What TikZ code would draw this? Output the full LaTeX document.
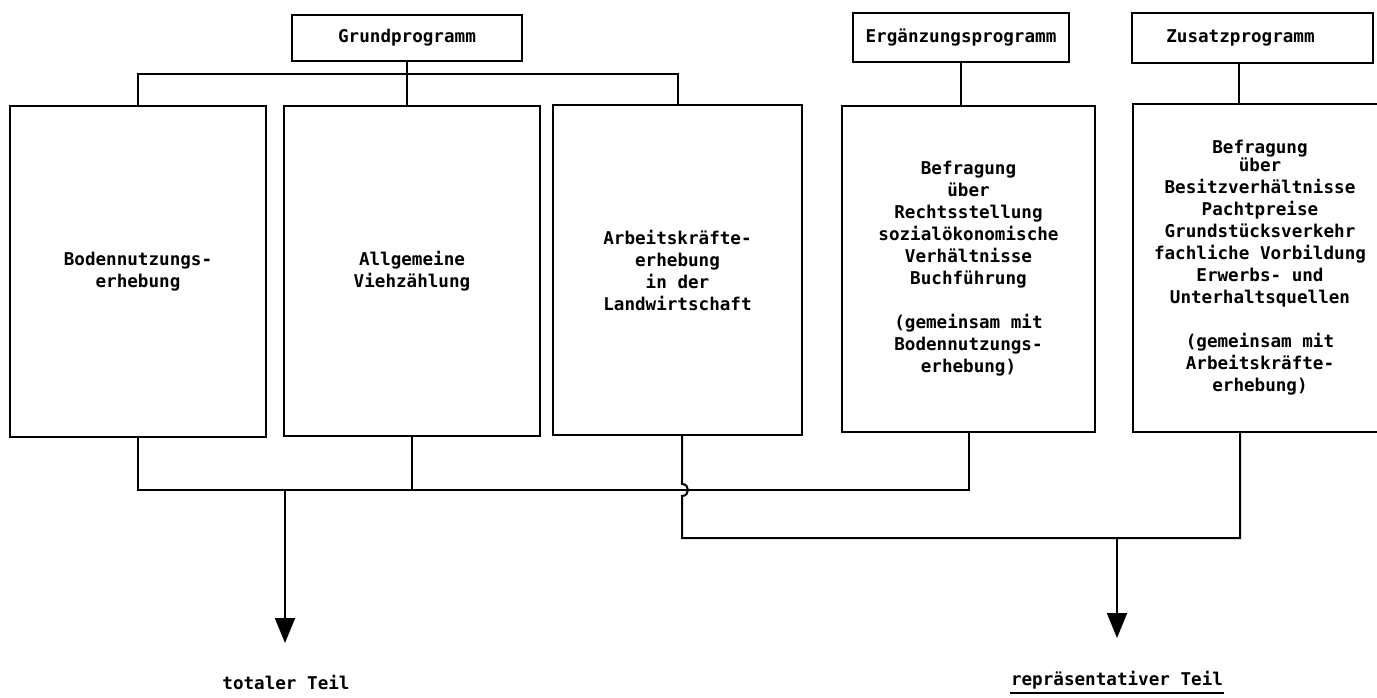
\documentclass[tikz,border=0pt]{standalone}
\usepackage{fontspec}
\setmonofont{DejaVu Sans Mono}
\usetikzlibrary{arrows.meta}
\begin{document}
\begin{tikzpicture}[x=1pt,y=-1pt,line width=2pt,
  txt/.style={font=\ttfamily\bfseries\fontsize{17.6}{22}\selectfont},
  box/.style={txt,draw,rectangle,inner sep=0pt,outer sep=0pt,align=center},
  lbl/.style={txt,inner sep=0pt},
  arr/.style={-{Triangle[length=25pt,width=20pt]}}]
\useasboundingbox (0,0) rectangle (1377,697);
\clip (0,0) rectangle (1377,697);
% program headers
\node[box,minimum width=230pt,minimum height=46pt] (g) at (407,38) {Grundprogramm};
\node[box,minimum width=216pt,minimum height=49pt] (e) at (961,37.5) {Ergänzungsprogramm};
\node[box,minimum width=241pt,minimum height=50pt] (z) at (1252.5,38) {Zusatzprogramm\hspace*{24pt}};
% main boxes
\node[box,minimum width=256pt,minimum height=331pt] (b1) at (138,271.5) {Bodennutzungs-\\erhebung};
\node[box,minimum width=256pt,minimum height=330pt] (b2) at (412,271) {Allgemeine\\Viehzählung};
\node[box,minimum width=249pt,minimum height=330pt] (b3) at (677.5,270) {Arbeitskräfte-\\erhebung\\in der\\Landwirtschaft};
\node[box,minimum width=253pt,minimum height=326pt] (b4) at (968.5,269) {Befragung\\über\\Rechtsstellung\\sozialökonomische\\Verhältnisse\\Buchführung\\[22pt](gemeinsam mit\\Bodennutzungs-\\erhebung)};
\node[box,minimum width=254pt,minimum height=328pt] (b5) at (1260,268) {Befragung\\[-4pt]über\\Besitzverhältnisse\\Pachtpreise\\Grundstücksverkehr\\fachliche Vorbildung\\Erwerbs- und\\Unterhaltsquellen\\[22pt](gemeinsam mit\\Arbeitskräfte-\\erhebung)};
% result labels
\node[lbl] (t1) at (286,682) {totaler Teil};
\node[lbl] (t2) at (1117,680) {repräsentativer Teil};
\draw[line width=1.8pt] ([yshift=-3pt]t2.south west) -- ([yshift=-3pt]t2.south east);
% helper coordinates
\coordinate (topbar) at (0,74);
\coordinate (bar1) at (0,490);
\coordinate (bar2) at (0,538);
\coordinate (zs) at (1239,0);
\coordinate (j) at (682,0);
\coordinate (b5s) at (1240,0);
\coordinate (a1) at (285,490);
\coordinate (a2) at (1117,538);
\coordinate (tip1) at (0,643);
\coordinate (tip2) at (0,638);
\coordinate (jt) at (682,484);
\coordinate (jb) at (682,496);
% top connectors
\draw (g.south) -- (g.south |- b2.north);
\draw (b1.north) -- (b1.north |- topbar) -- (b3.north |- topbar) -- (b3.north);
\draw (e.south) -- (e.south |- b4.north);
\draw (z.south -| zs) -- (b5.north -| zs);
% bottom connectors
\draw (b1.south) -- (b1.south |- bar1) -- (b4.south |- bar1) -- (b4.south);
\draw (b2.south) -- (b2.south |- bar1);
\draw (b3.south -| j) -- (jt) .. controls (690,484) and (690,496) .. (jb) -- (j |- bar2) -- (b5s |- bar2) -- (b5.south -| b5s);
% arrows
\draw[arr] (a1) -- (a1 |- tip1);
\draw[arr] (a2) -- (a2 |- tip2);
\end{tikzpicture}
\end{document}
